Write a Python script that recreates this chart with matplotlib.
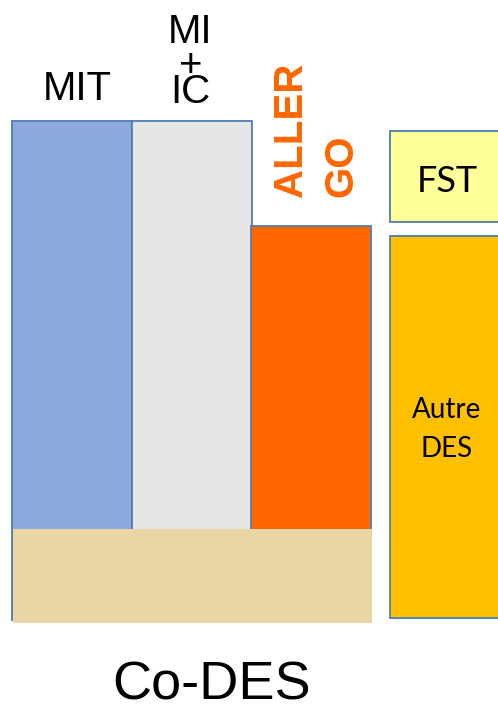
import matplotlib.pyplot as plt
from matplotlib.patches import Rectangle

# ---- Data (y measured upward, in figure pixels) ----

bar_names = ['MIT', 'MI+IC', 'ALLERGO']
bar_tops = [587, 587, 482]
bar_bottom = 88
bar_colors = ['#8EA9DB', '#E6E6E6', '#FF6600']

base_range = [85, 179]          # textured base under the three columns

side_names = ['FST', 'Autre\nDES']
side_bottoms = [486, 90]
side_tops = [577, 472]
side_colors = ['#FFFF99', '#FFC000']

title = 'Co-DES'

edge = '#4F7DB0'

fig = plt.figure(figsize=(4.98, 7.08), dpi=100)
ax = fig.add_axes([0, 0, 1, 1])
ax.set_xlim(0, 498)
ax.set_ylim(0, 708)
ax.axis('off')

# ---- Main columns ----
x_left = [12, 132, 251]
width = 119.5
heights = [t - bar_bottom for t in bar_tops]
ax.bar(x_left, heights, width=width, bottom=bar_bottom, align='edge',
       color=bar_colors, edgecolor=edge, linewidth=1.3, zorder=1)

# papyrus base (covers the lower part of the columns)
ax.add_patch(Rectangle((12.8, base_range[0]), 359.5, base_range[1] - base_range[0],
                       facecolor='#E9D6A4', edgecolor='none', zorder=2))

# ---- Side boxes ----
side_heights = [t - b for t, b in zip(side_tops, side_bottoms)]
ax.bar([390, 390], side_heights, width=130, bottom=side_bottoms, align='edge',
       color=side_colors, edgecolor=edge, linewidth=1.3, zorder=1)

# ---- Labels ----
arial = 'Liberation Sans'
ax.text(77, 608, 'MIT', ha='center', va='baseline', fontsize=29, family=arial)
ax.text(190, 665, 'MI', ha='center', va='baseline', fontsize=29, family=arial)
ax.text(191, 631, '+', ha='center', va='baseline', fontsize=29, family=arial)
ax.text(190, 605, 'IC', ha='center', va='baseline', fontsize=29, family=arial)

ax.text(302, 511, 'ALLER', rotation=90, rotation_mode='anchor', ha='left',
        va='baseline', fontsize=29, fontweight='bold', color='#FF6600', family=arial)
ax.text(352, 511, 'GO', rotation=90, rotation_mode='anchor', ha='left',
        va='baseline', fontsize=29, fontweight='bold', color='#FF6600', family=arial)

ax.text(447, 516, side_names[0], ha='center', va='baseline', fontsize=26, family='Lato')
ax.text(447, 290, 'Autre', ha='center', va='baseline', fontsize=20, family='Lato')
ax.text(447, 251, 'DES', ha='center', va='baseline', fontsize=20, family='Lato')

ax.text(212, 9, title, ha='center', va='baseline', fontsize=39, family=arial)

fig.savefig('out.png', dpi=100)
